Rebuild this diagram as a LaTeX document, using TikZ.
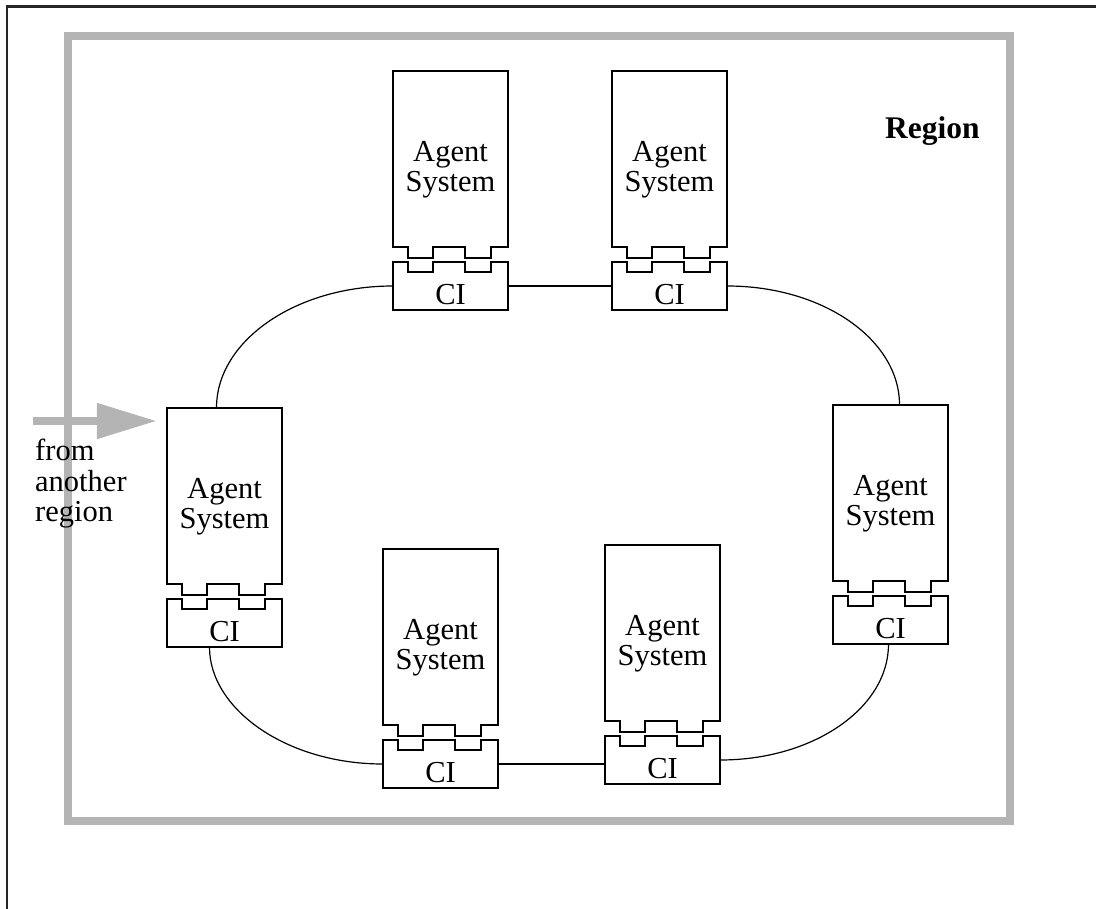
\documentclass[tikz,border=0pt]{standalone}
\usepackage{fontspec}
\setmainfont{Liberation Serif}
\usetikzlibrary{arrows.meta,calc}
\definecolor{regiongray}{RGB}{180,180,180}
\tikzset{
  line/.style={line width=1.2pt, black},
  box/.style={draw=none, inner sep=0pt, rectangle},
  lbl/.style={font=\fontsize{30.5}{30}\selectfont, inner sep=0pt, align=center},
  grayarrow/.style={draw=regiongray, line width=8pt,
    -{Triangle[length=60pt, width=34pt, fill=regiongray]}, shorten >=10pt},
  agent/.pic={
    \draw[line] (0,176) -- (0,0) -- (115,0) -- (115,176) -- (98,176) -- (98,187)
      -- (72,187) -- (72,176) -- (40,176) -- (40,187) -- (15,187) -- (15,176) -- cycle;
    \draw[line] (0,191) -- (15,191) -- (15,201) -- (40,201) -- (40,191) -- (72,191)
      -- (72,201) -- (98,201) -- (98,191) -- (115,191) -- (115,239) -- (0,239) -- cycle;
    \node[box, minimum width=115pt, minimum height=176pt] (-body) at (57.5,88) {};
    \node[box, minimum width=115pt, minimum height=48pt] (-ci) at (57.5,215) {};
    \node[lbl] (-label) at (57.5,99) {Agent\\System};
    \node[lbl] (-citext) at (57.5,224) {CI};
  }
}
\begin{document}
\begin{tikzpicture}[x=1pt, y=-1pt]
\useasboundingbox (0,0) rectangle (1096,909);
% outer frame (top and left edges)
\draw[line width=2.5pt, black!85] (7,909) -- (7,6.5) -- (1096,6.5);
% region
\draw[regiongray, line width=8pt] (67.5,36.5) rectangle (1009.5,820.5);
\node[font=\bfseries\fontsize{31.5}{31}\selectfont, anchor=base west, inner sep=0pt] (region) at (885,139) {Region};

% agent systems
\pic (A1) at (393,71) {agent};
\pic (A2) at (612,71) {agent};
\pic (A3) at (167,408) {agent};
\pic (A4) at (833,405) {agent};
\pic (A5) at (383,549) {agent};
\pic (A6) at (605,545) {agent};

% ring connections
\draw[line] (A1-ci.east) -- (A2-ci.west);
\draw[line] (A5-ci.east) -- (A5-ci.east -| A6-ci.west);
\draw[line] (A1-ci.west) .. controls +(-97,0) and +(0,-67) .. ($(A3-body.north)+(-8,0)$);
\draw[line] (A2-ci.east) .. controls +(96,0) and +(0,-65) .. ($(A4-body.north)+(9,0)$);
\draw[line] ($(A3-ci.south)+(-15,0)$) .. controls +(0,62) and +(-96,0) .. (A5-ci.west);
\draw[line] (A6-ci.east) .. controls +(93,0) and +(0,64) .. ($(A4-ci.south)+(-2,0)$);

% incoming arrow
\coordinate (arrS) at (33,421);
\draw[grayarrow] (arrS) -- (arrS -| A3-body.west);
\node[font=\fontsize{30.5}{30.5}\selectfont, align=left, anchor=north west, inner sep=0pt] (from) at (35,439) {from\\another\\region};
\end{tikzpicture}
\end{document}
